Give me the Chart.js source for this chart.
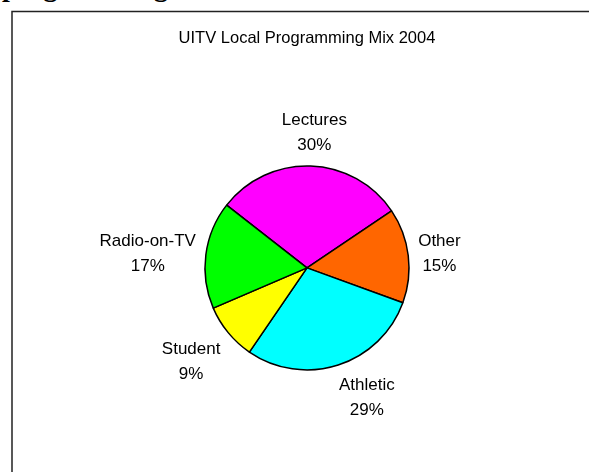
<!DOCTYPE html>
<html>
<head>
<meta charset="utf-8">
<script src="https://cdn.jsdelivr.net/npm/chart.js@4"></script>
<style>
  html, body { margin: 0; padding: 0; background: #fff; overflow: hidden; }
  #page { position: relative; width: 589px; height: 472px; overflow: hidden; }
  #cut { position: absolute; left: 2px; top: -27px; font: bold 28px "Liberation Serif", "Times New Roman", serif; line-height: 28px; color: #000; white-space: nowrap; }
  #wrap { position: absolute; left: 0; top: 0; width: 589px; height: 472px; }
</style>
</head>
<body>
<div id="page">
  <div id="cut">programming</div>
  <div id="wrap"><canvas id="pie-chart" width="589" height="472"></canvas></div>
</div>
<script>
const categories = ['Lectures', 'Other', 'Athletic', 'Student', 'Radio-on-TV'];
const shares = [30, 15, 29, 9, 17];
const sliceColors = ['#FF00FF', '#FF6600', '#00FFFF', '#FFFF00', '#00FF00'];

const FONT = '"Liberation Sans", Arial, sans-serif';

// frame round the chart, it runs off the right and bottom edges
const framePlugin = {
  id: 'frame',
  beforeDraw(chart) {
    const ctx = chart.ctx;
    ctx.save();
    ctx.strokeStyle = '#222';
    ctx.lineWidth = 1.5;
    ctx.strokeRect(12, 11.5, 700, 600);
    ctx.restore();
  }
};

const clamp = (v, lo, hi) => Math.min(hi, Math.max(lo, v));

// name + percent outside each slice, Excel style
const sliceLabels = {
  id: 'sliceLabels',
  afterDatasetsDraw(chart, args, opts) {
    const ctx = chart.ctx;
    const meta = chart.getDatasetMeta(0);
    const values = chart.data.datasets[0].data;
    const total = values.reduce((a, b) => a + b, 0);
    ctx.save();
    ctx.font = opts.size + 'px ' + FONT;
    ctx.fillStyle = '#000';
    ctx.textAlign = 'center';
    ctx.textBaseline = 'middle';
    meta.data.forEach((arc, i) => {
      const p = arc.getProps(['x', 'y', 'startAngle', 'endAngle', 'outerRadius'], true);
      const mid = (p.startAngle + p.endAngle) / 2;
      const dx = Math.cos(mid), dy = Math.sin(mid);
      const lines = [chart.data.labels[i], Math.round(values[i] / total * 100) + '%'];
      const hw = Math.max(...lines.map(t => ctx.measureText(t).width)) / 2;
      const hh = opts.lineGap / 2 + opts.size / 2 + 2;
      // anchor just outside the rim, then push the text box away from it
      const ax = p.x + dx * (p.outerRadius + opts.gap);
      const ay = p.y + dy * (p.outerRadius + opts.gap);
      const cx = ax + Math.sign(dx) * hw * Math.min(1, Math.abs(dx) * 3);
      const cy = ay + Math.sign(dy) * hh * clamp((Math.abs(dy) - 0.2) * 2.5, 0, 1);
      ctx.fillText(lines[0], cx, cy - opts.lineGap / 2);
      ctx.fillText(lines[1], cx, cy + opts.lineGap / 2);
    });
    ctx.restore();
  }
};

const chartConfig = {
  type: 'pie',
  data: {
    labels: categories,
    datasets: [{
      data: shares,
      backgroundColor: sliceColors,
      borderColor: '#000',
      borderWidth: 1.5
    }]
  },
  options: {
    responsive: false,
    animation: false,
    rotation: -52,
    radius: 102,
    layout: { padding: { left: 125, right: 100, top: 29, bottom: 85 } },
    plugins: {
      legend: { display: false },
      tooltip: { enabled: false },
      title: {
        display: true,
        text: 'UITV Local Programming Mix 2004',
        color: '#000',
        font: { family: FONT, size: 16.5, weight: 'normal', lineHeight: 1.2 },
        padding: { top: 0, bottom: 100 }
      },
      sliceLabels: { size: 17, gap: 10, lineGap: 25 }
    }
  },
  plugins: [framePlugin, sliceLabels]
};

const ctx = document.getElementById('pie-chart').getContext('2d');
new Chart(ctx, chartConfig);
</script>
</body>
</html>
